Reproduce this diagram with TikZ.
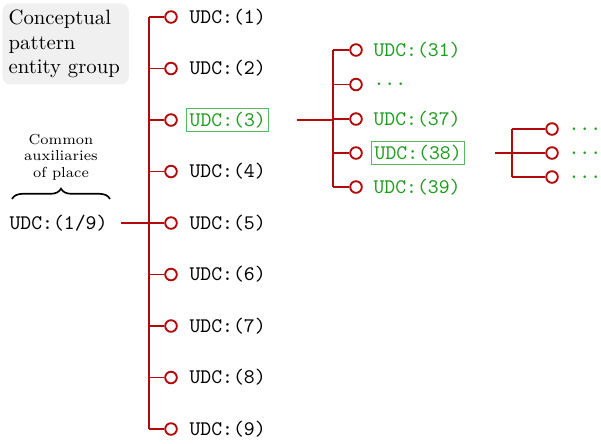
\documentclass[tikz,border=0pt]{standalone}
\usetikzlibrary{decorations.pathreplacing}
\definecolor{brred}{RGB}{178,10,10}
\definecolor{udcgreen}{RGB}{30,155,30}
\definecolor{boxgreen}{RGB}{90,185,90}
\definecolor{grpgray}{RGB}{240,240,240}
\begin{document}
\begin{tikzpicture}[x=0.4825pt,y=-0.4825pt,
  br/.style={draw=brred,line width=0.9pt},
  thickbr/.style={draw=brred,line width=1.3pt},
  dot/.style={circle,draw=brred,fill=white,line width=0.9pt,minimum size=5.6pt,inner sep=0pt},
  udc/.style={font=\ttfamily,anchor=west,inner sep=1.5pt},
  gudc/.style={udc,text=udcgreen},
  gbox/.style={draw=boxgreen,line width=0.5pt},
  grp/.style={fill=grpgray,rounded corners=4pt,align=left,anchor=north west,inner sep=3pt,text width=55pt}]
\useasboundingbox (0,0) rectangle (601,444);
% group label
\node[grp] (grp) at (2,3) {Conceptual\\pattern\\entity group};
% left root
\node[udc] (root) at (6,223) {UDC:(1/9)};
\coordinate (b1) at (12,199);
\coordinate (b2) at (110,199);
\draw[decorate,decoration={brace,amplitude=5pt},line width=0.8pt] (b1) -- (b2);
\node[font=\scriptsize,align=center,inner sep=0pt] (cap) at (61,157) {Common\\auxiliaries\\of place};
% main trunk
\coordinate (top) at (149,17);
\coordinate (bot) at (149,429);
\draw[br] (top) -- (bot);
\draw[thickbr] ([xshift=5pt]root.east) -- (root.east -| top);
\foreach \i/\y in {1/17,2/68.5,3/120,4/171.5,5/223,6/274.5,7/326,8/377.5,9/429}{
  \node[dot] (c\i) at (171,\y) {};
  \draw[br] (c\i.west) -- (c\i.west -| top);
}
\foreach \i/\y in {1/17,2/68.5,4/171.5,5/223,6/274.5,7/326,8/377.5,9/429}{
  \node[udc] (t\i) at (186,\y) {UDC:(\i)};
}
\node[gudc,gbox] (t3) at (186,120) {UDC:(3)};
% second level
\coordinate (top2) at (333,50);
\coordinate (bot2) at (333,187);
\draw[br] (top2) -- (bot2);
\draw[thickbr] ([xshift=13.5pt]t3.east) -- (t3.east -| top2);
\foreach \n/\y in {a/50,b/84.5,c/119,d/153,e/187}{
  \node[dot] (s\n) at (356,\y) {};
  \draw[br] (s\n.west) -- (s\n.west -| top2);
}
\node[gudc] (u31) at (370,50) {UDC:(31)};
\node[gudc] (udots) at (370,84.5) {...};
\node[gudc] (u37) at (370,119) {UDC:(37)};
\node[gudc,gbox] (u38) at (371,153) {UDC:(38)};
\node[gudc] (u39) at (370,187) {UDC:(39)};
% third level
\coordinate (top3) at (512,129);
\coordinate (bot3) at (512,177);
\draw[br] (top3) -- (bot3);
\draw[br] ([xshift=14.5pt]u38.east) -- (u38.east -| top3);
\foreach \n/\y in {a/129,b/153,c/177}{
  \node[dot] (r\n) at (552,\y) {};
  \draw[br] (r\n.west) -- (r\n.west -| top3);
  \node[gudc] (v\n) at (565,\y) {...};
}
\end{tikzpicture}
\end{document}
